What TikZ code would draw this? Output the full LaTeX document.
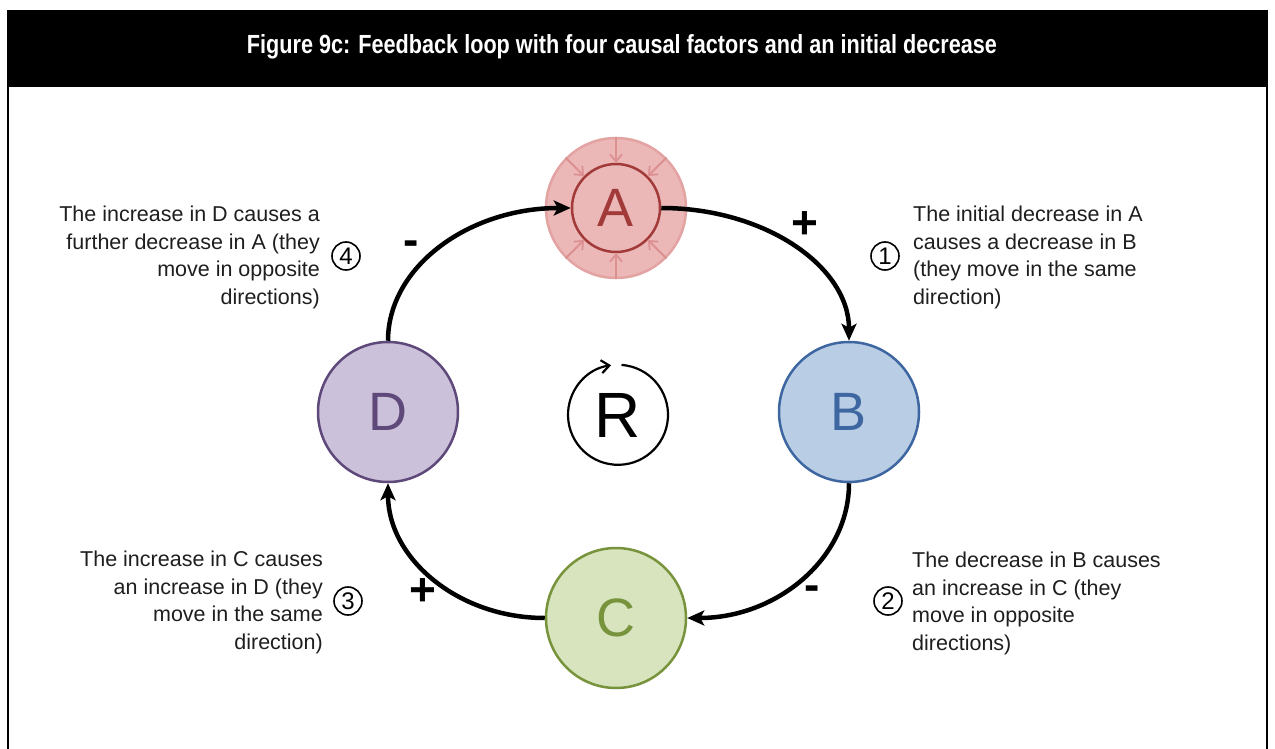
\documentclass[tikz,border=0pt]{standalone}
\usepackage{fontspec}
\usepackage{graphicx}
\setmainfont{Liberation Sans}
\usetikzlibrary{arrows.meta}
\definecolor{txt}{HTML}{1E1E1E}
\definecolor{afill}{HTML}{EBB7B7}
\definecolor{aring}{HTML}{E3A3A3}
\definecolor{adark}{HTML}{A23A3A}
\definecolor{aarrow}{HTML}{DC9090}
\definecolor{bfill}{HTML}{B9CDE5}
\definecolor{bdark}{HTML}{3E66A0}
\definecolor{cfill}{HTML}{D7E4BD}
\definecolor{cdark}{HTML}{77933C}
\definecolor{dfill}{HTML}{CCC1DA}
\definecolor{ddark}{HTML}{5F497A}
\tikzset{
  factor/.style={circle, draw, line width=2.5pt, minimum size=140pt, inner sep=0pt,
    font=\fontsize{54}{54}\selectfont},
  link/.style={line width=4.5pt, -{Stealth[length=17pt, width=15pt, inset=4pt]}},
  sign/.style={font=\fontsize{46}{46}\selectfont\bfseries, inner sep=0pt},
  num/.style={circle, draw, line width=1.6pt, minimum size=28pt, inner sep=0pt,
    font=\fontsize{24}{24}\selectfont},
  note/.style={font=\fontsize{21.5}{27.5}\selectfont, text=txt, inner sep=0pt},
  ringarrow/.style={draw=aarrow, line width=1.8pt, -{Straight Barb[length=7pt, width=12pt]}},
}
\begin{document}
\begin{tikzpicture}[x=1pt, y=-1pt]
\useasboundingbox (0,0) rectangle (1275,749);
% frame
\fill[black] (7,10) rectangle (1268,87);
\draw[line width=2pt] (8,87) -- (8,749);
\draw[line width=2pt] (1267,87) -- (1267,749);
\node[text=white, inner sep=0pt] (title) at (622,47)
  {\resizebox{750pt}{19pt}{\fontsize{22.5}{22.5}\selectfont\bfseries Figure 9c: Feedback loop with four causal factors and an initial decrease}};
% factors
\node[factor, fill=afill, draw=aring] (Aring) at (616,208) {};
\node[circle, draw=adark, line width=2.5pt, minimum size=88pt, inner sep=0pt, fill=afill,
  text=adark, font=\fontsize{54}{54}\selectfont] (A) at (616,208) {A};
\foreach \ang in {90,45,135,270,225,315}
  \draw[ringarrow] (Aring.\ang) -- (A.\ang);
\node[factor, fill=bfill, draw=bdark, text=bdark] (B) at (849,412) {B};
\node[factor, fill=cfill, draw=cdark, text=cdark] (C) at (616,618) {C};
\node[factor, fill=dfill, draw=ddark, text=ddark] (D) at (388,412) {D};
% R loop
\node[circle, minimum size=100pt, inner sep=0pt, font=\fontsize{64}{64}\selectfont] (R) at (618,415) {R};
\draw[line width=2.2pt, -{Straight Barb[length=8pt, width=13pt]}] (R.86) arc[start angle=86, end angle=-262, radius=50pt];
% links
\draw[link] (A.east) .. controls +(104,0) and +(0,-74) .. (B.north);
\draw[link] (B.south) .. controls +(0,75) and +(90,0) .. (C.east);
\draw[link] (C.west) .. controls +(-87,0) and +(0,75) .. (D.south);
\draw[link] (D.north) .. controls +(0,-74) and +(-102,0) .. (A.west);
% signs
\node[sign] (s1) at (805,225) {+};
\node[sign] (s2) at (812,593) {-};
\node[sign] (s3) at (423,592) {+};
\node[sign] (s4) at (411,248) {-};
% numbers
\node[num] (n1) at (885,256) {1};
\node[num] (n2) at (888,601) {2};
\node[num] (n3) at (348,601) {3};
\node[num] (n4) at (346,256) {4};
% notes
\node[note, anchor=north west, align=left] (t1) at (913,206)
  {The initial decrease in A\\causes a decrease in B\\(they move in the same\\direction)};
\node[note, anchor=north west, align=left] (t2) at (912,552)
  {The decrease in B causes\\an increase in C (they\\move in opposite\\directions)};
\node[note, anchor=north east, align=right] (t3) at (323,551)
  {The increase in C causes\\an increase in D (they\\move in the same\\direction)};
\node[note, anchor=north east, align=right] (t4) at (320,206)
  {The increase in D causes a\\further decrease in A (they\\move in opposite\\directions)};
\end{tikzpicture}
\end{document}
